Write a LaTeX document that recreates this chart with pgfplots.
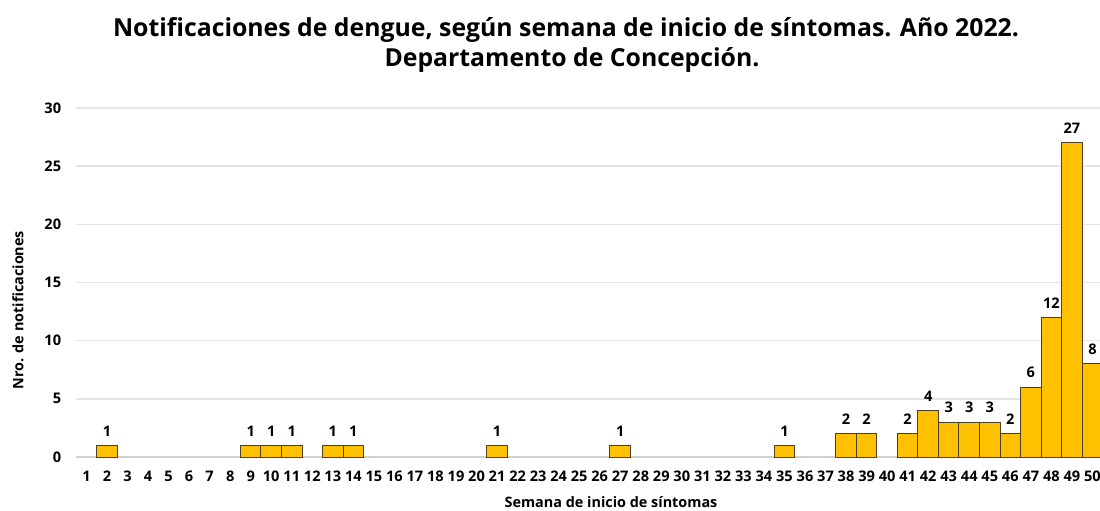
\documentclass[border=0pt]{standalone}
\usepackage{fontspec}
\setmainfont{Open Sans}
\usepackage{pgfplots}
\pgfplotsset{compat=1.18}
\definecolor{barfill}{HTML}{FFC000}
\definecolor{baredge}{HTML}{4D4020}
\definecolor{gridc}{HTML}{E4E4E4}
\definecolor{axisc}{HTML}{D0D0D0}
\pgfplotstableread{
w v
2 1
9 1
10 1
11 1
13 1
14 1
21 1
27 1
35 1
38 2
39 2
41 2
42 4
43 3
44 3
45 3
46 2
47 6
48 12
49 27
50 8
}\datatable
\begin{document}
\begin{tikzpicture}
\begin{axis}[
  at={(38.1pt,26.5pt)}, anchor=south west,
  scale only axis, width=513.25pt, height=174.5pt,
  xmin=0.5, xmax=50.5, ymin=0, ymax=30,
  axis lines*=left,
  y axis line style={draw=none},
  x axis line style={draw=axisc, line width=0.8pt},
  ytick={0,5,...,30}, xtick={1,...,50},
  ymajorgrids, grid style={draw=gridc, line width=0.7pt},
  major tick length=0pt,
  /pgf/number format/assume math mode=true,
  tick label style={font=\bfseries\fontsize{7.3}{8}\selectfont},
  xticklabel style={yshift=-3.5pt},
  yticklabel style={xshift=-4pt},
  clip=false,
]
\addplot[ybar, bar width=1, fill=barfill, draw=baredge, line width=0.5pt,
  nodes near coords, every node near coord/.append style={font=\bfseries\fontsize{7.3}{8}\selectfont, text=black, yshift=1pt}]
  table[x=w, y=v] {\datatable};
\end{axis}
\node[anchor=base, font=\bfseries\fontsize{12.4}{14}\selectfont] at (283pt,236.7pt) {Notificaciones de dengue, según semana de inicio de síntomas. Año 2022.};
\node[anchor=base, font=\bfseries\fontsize{12.4}{14}\selectfont] at (286pt,222pt) {Departamento de Concepción.};
\node[rotate=90, font=\bfseries\fontsize{7.2}{8}\selectfont] at (9pt,100pt) {Nro. de notificaciones};
\node[font=\bfseries\fontsize{7.2}{8}\selectfont] at (305.5pt,4pt) {Semana de inicio de síntomas};
\pgfresetboundingbox
\useasboundingbox (0,0) rectangle (550pt,255pt);
\end{tikzpicture}
\end{document}
